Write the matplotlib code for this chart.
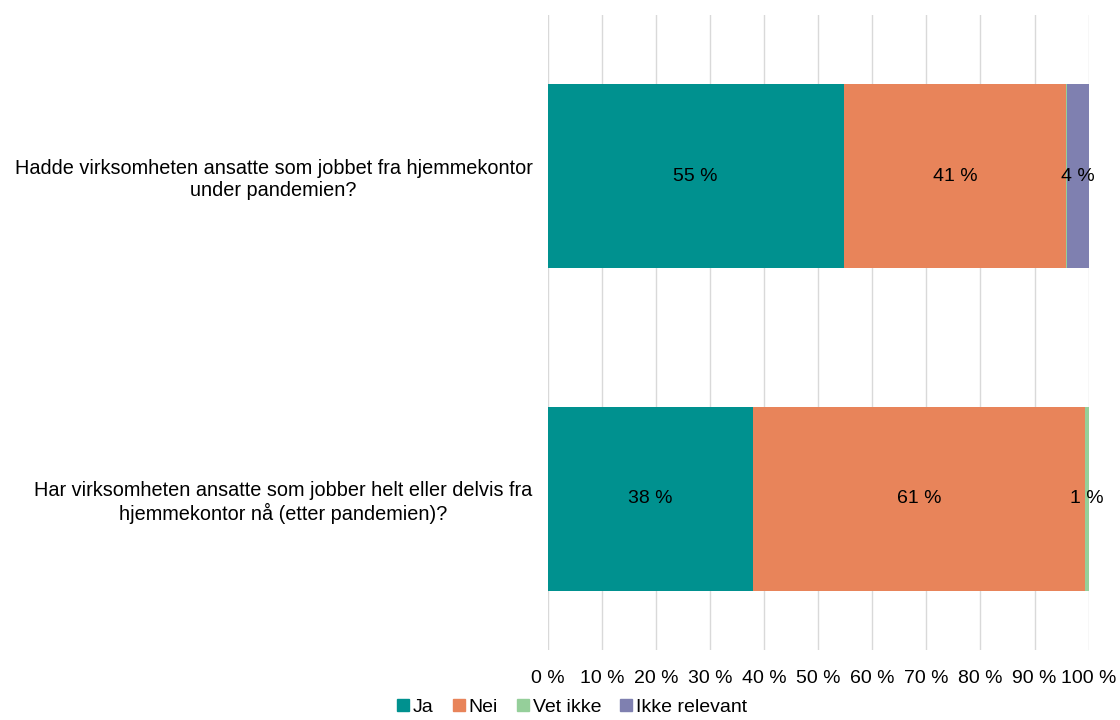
import matplotlib
matplotlib.use("Agg")
import matplotlib.pyplot as plt
from matplotlib.ticker import FixedLocator
from matplotlib.lines import Line2D

plt.rcParams['font.family'] = ['Liberation Sans', 'DejaVu Sans']

categories = [
    "Hadde virksomheten ansatte som jobbet fra hjemmekontor\nunder pandemien?",
    "Har virksomheten ansatte som jobber helt eller delvis fra\nhjemmekontor nå (etter pandemien)?",
]
series = ["Ja", "Nei", "Vet ikke", "Ikke relevant"]
ja = [54.7, 37.9]
nei = [41.2, 61.4]
vet_ikke = [0.1, 0.7]
ikke_relevant = [4.0, 0.0]
labels = {
    "Ja": ["55 %", "38 %"],
    "Nei": ["41 %", "61 %"],
    "Vet ikke": ["", "1 %"],
    "Ikke relevant": ["4 %", ""],
}
colors = ["#00918F", "#E8845A", "#95CF9A", "#7F80B0"]
xticks = list(range(0, 101, 10))
xticklabels = [f"{t} %" for t in xticks]

values = [ja, nei, vet_ikke, ikke_relevant]

fig = plt.figure(figsize=(11.2, 7.2), dpi=100)
ax = fig.add_axes([0.489, 0.097, 0.483, 0.882])

ypos = [1, 0]
left = [0.0, 0.0]
for name, vals, col in zip(series, values, colors):
    ax.barh(ypos, vals, left=left, height=0.57, color=col, zorder=3)
    for i, (v, l) in enumerate(zip(vals, left)):
        txt = labels[name][i]
        if txt:
            ax.text(l + v / 2, ypos[i], txt, ha="center", va="center",
                    fontsize=14, color="black", zorder=4)
    left = [a + b for a, b in zip(left, vals)]

ax.set_xlim(0, 100)
ax.set_ylim(-0.47, 1.5)
ax.xaxis.set_major_locator(FixedLocator(xticks))
ax.set_xticklabels(xticklabels, fontsize=14)
ax.set_yticks(ypos)
ax.set_yticklabels(categories, fontsize=14.3)
ax.tick_params(axis="x", length=0, pad=14)
ax.tick_params(axis="y", length=0, pad=10.8)
for lbl in ax.get_yticklabels():
    lbl.set_horizontalalignment("right")
    lbl.set_multialignment("center")
ax.grid(axis="x", color="#D9D9D9", linewidth=1, zorder=0)
for s in ax.spines.values():
    s.set_visible(False)

handles = [Line2D([0], [0], marker="s", linestyle="", markersize=8,
                  markerfacecolor=c, markeredgecolor=c) for c in colors]
fig.legend(handles, series, loc="lower center", bbox_to_anchor=(0.51, -0.019),
           ncol=4, frameon=False, fontsize=14, handletextpad=0.1,
           columnspacing=0.9, handlelength=0.8)

fig.savefig("out.png", dpi=100)
